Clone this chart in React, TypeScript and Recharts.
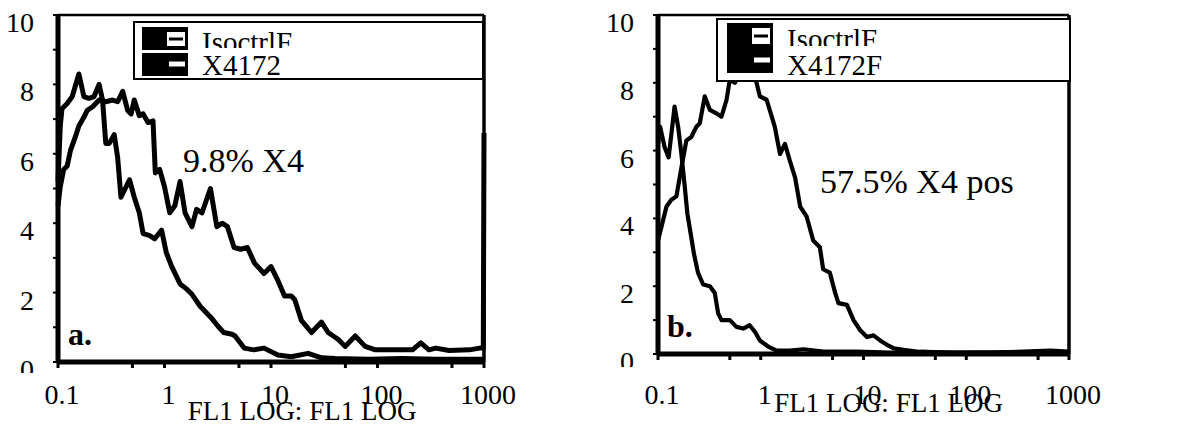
import { LineChart, Line, XAxis, YAxis, ReferenceLine, Legend, Customized } from 'recharts';

const FONT = '"Liberation Serif", "Times New Roman", serif';

// FL1 LOG tick values
const xTicks = [0.1, 0.5, 1, 5, 10, 50, 100, 500, 1000];
const xLabelled = [0.1, 1, 10, 100, 1000];
const yTicks = [0, 1, 2, 3, 4, 5, 6, 7, 8, 9, 10];

// panel a: isotype control
const aIsoFl1 = [0.1, 0.105, 0.109, 0.122, 0.136, 0.157, 0.175, 0.195, 0.218, 0.243, 0.262, 0.281, 0.303, 0.337, 0.363, 0.39, 0.42, 0.47, 0.52, 0.58, 0.63, 0.72, 0.81, 0.94, 1.04, 1.17, 1.4, 1.62, 1.81, 2.17, 2.7, 3.24, 3.6, 4.3, 4.6, 5.6, 6.9, 8.6, 11.6, 15.5, 22.3, 29.8, 40, 83, 170, 355, 1000];
const aIsoCount = [5.2, 6.8, 7.3, 7.45, 7.65, 8.3, 7.65, 7.6, 7.65, 8.0, 7.55, 6.3, 6.3, 6.55, 5.9, 4.75, 4.95, 5.25, 4.75, 4.3, 3.7, 3.65, 3.55, 3.8, 3.15, 2.75, 2.25, 2.1, 1.95, 1.6, 1.3, 1.0, 0.85, 0.8, 0.75, 0.4, 0.35, 0.4, 0.2, 0.15, 0.25, 0.12, 0.1, 0.08, 0.1, 0.08, 0.08];

// panel a: X4172 stain
const aPosFl1 = [0.1, 0.105, 0.113, 0.122, 0.131, 0.146, 0.157, 0.175, 0.188, 0.21, 0.243, 0.281, 0.325, 0.363, 0.405, 0.451, 0.486, 0.52, 0.58, 0.63, 0.7, 0.78, 0.82, 0.9, 1.0, 1.12, 1.25, 1.4, 1.56, 1.81, 2.0, 2.25, 2.7, 3.1, 3.5, 3.9, 4.5, 5.2, 6.0, 7.0, 8.6, 10, 11.6, 13.4, 15.5, 16.7, 19.3, 24, 29.8, 34.4, 42.9, 49.6, 61.8, 76.6, 95.6, 127, 213, 255, 304, 352, 470, 730, 912, 985, 1000];
const aPosCount = [4.5, 5.05, 5.55, 5.65, 6.1, 6.5, 6.8, 7.05, 7.25, 7.35, 7.55, 7.5, 7.55, 7.5, 7.8, 7.25, 7.15, 7.55, 7.1, 7.15, 6.9, 6.95, 5.45, 5.55, 5.05, 4.3, 4.5, 5.2, 4.3, 3.9, 4.4, 4.3, 5.0, 3.9, 4.0, 3.9, 3.3, 3.25, 3.3, 2.85, 2.55, 2.75, 2.35, 1.9, 1.9, 1.8, 1.2, 0.85, 1.15, 0.85, 0.65, 0.45, 0.75, 0.45, 0.35, 0.35, 0.35, 0.55, 0.35, 0.4, 0.33, 0.35, 0.4, 0.4, 6.6];

// panel b: isotype control
const bIsoFl1 = [0.1, 0.105, 0.116, 0.127, 0.145, 0.157, 0.169, 0.182, 0.193, 0.208, 0.224, 0.245, 0.275, 0.32, 0.357, 0.385, 0.415, 0.5, 0.58, 0.675, 0.78, 0.88, 0.98, 1.18, 1.43, 1.92, 2.6, 4.1, 8.6, 18, 38, 81, 170, 360, 660, 1000];
const bIsoCount = [6.2, 6.7, 6.1, 5.8, 7.3, 6.7, 5.9, 4.95, 4.15, 3.55, 2.95, 2.4, 2.05, 2.0, 1.8, 1.2, 1.0, 1.0, 0.8, 0.75, 0.85, 0.65, 0.4, 0.22, 0.1, 0.1, 0.14, 0.07, 0.07, 0.04, 0.06, 0.04, 0.04, 0.07, 0.1, 0.07];

// panel b: X4172F stain
const bPosFl1 = [0.1, 0.108, 0.121, 0.135, 0.151, 0.169, 0.189, 0.211, 0.236, 0.255, 0.285, 0.32, 0.37, 0.415, 0.465, 0.5, 0.56, 0.63, 0.73, 0.84, 0.91, 0.98, 1.14, 1.28, 1.37, 1.54, 1.72, 1.92, 2.16, 2.42, 2.8, 3.24, 3.76, 4.05, 4.7, 5.3, 5.7, 6.9, 8.0, 9.3, 10.8, 12.5, 14.5, 16.9, 19.6, 24.6, 33, 60, 200, 1000];
const bPosCount = [3.35, 3.75, 4.35, 4.55, 4.65, 5.5, 6.3, 6.4, 6.7, 6.8, 7.6, 7.2, 7.1, 7.0, 7.5, 8.1, 8.0, 8.3, 8.5, 8.4, 8.0, 7.6, 7.5, 7.0, 6.7, 5.9, 6.2, 5.7, 5.2, 4.35, 4.05, 3.35, 3.15, 2.5, 2.4, 1.8, 1.5, 1.45, 1.0, 0.7, 0.5, 0.55, 0.4, 0.27, 0.17, 0.12, 0.07, 0.04, 0.05, 0.04];

type Pt = { fl1: number; count: number };
const zip = (xs: number[], ys: number[]): Pt[] => xs.map((x, i) => ({ fl1: x, count: ys[i] }));

interface PanelCfg {
  id: string;
  left: number;
  width: number;
  rightMargin: number;
  xAxisHeight: number;
  strokeWidth: number;
  xLabelDy: number;
  zeroClip: number;
  titleDx: number;
  iso: Pt[];
  pos: Pt[];
  isoName: string;
  posName: string;
  letter: { text: string; x: number; y: number };
  note: { text: string; x: number; y: number };
  legend: {
    left: number; top: number; width: number; height: number;
    sw: number; swW: number; row1: number; row2: number; rowH: number;
    textX: number; base1: number; clip1: number; base2: number;
  };
}

const panels: PanelCfg[] = [
  {
    id: 'a', left: 0, width: 560, rightMargin: 76, xAxisHeight: 62, strokeWidth: 5,
    xLabelDy: 34, zeroClip: 11, titleDx: 31,
    iso: zip(aIsoFl1, aIsoCount), pos: zip(aPosFl1, aPosCount),
    isoName: 'IsoctrlF', posName: 'X4172',
    letter: { text: 'a.', x: 68, y: 345 },
    note: { text: '9.8% X4', x: 183, y: 172 },
    legend: { left: 133, top: 21, width: 351, height: 59, sw: 9, swW: 46, row1: 6, row2: 32, rowH: 23,
      textX: 69, base1: 31, clip1: 27, base2: 54 },
  },
  {
    id: 'b', left: 600, width: 584, rightMargin: 115, xAxisHeight: 70, strokeWidth: 4.2,
    xLabelDy: 42, zeroClip: 13, titleDx: 25,
    iso: zip(bIsoFl1, bIsoCount), pos: zip(bPosFl1, bPosCount),
    isoName: 'IsoctrlF', posName: 'X4172F',
    letter: { text: 'b.', x: 67, y: 337 },
    note: { text: '57.5% X4 pos', x: 220, y: 193 },
    legend: { left: 116, top: 18, width: 355, height: 64, sw: 11, swW: 46, row1: 5, row2: 30, rowH: 25,
      textX: 71, base1: 31, clip1: 28, base2: 57 },
  },
];

function XTick({ x, y, payload, dy }: any) {
  if (!xLabelled.includes(payload.value)) return null;
  return (
    <text x={x + 4} y={y + dy} textAnchor="middle" fontFamily={FONT} fontSize={28} fill="#000">
      {payload.value}
    </text>
  );
}

function YTick({ x, y, payload, id, clipDy }: any) {
  const v = payload.value;
  if (v % 2 !== 0) return null;
  if (v === 0) {
    return (
      <g>
        <defs>
          <clipPath id={`zero-${id}`}>
            <rect x={x - 60} y={y - 20} width={60} height={20 + clipDy} />
          </clipPath>
        </defs>
        <text x={x - 17} y={y + 17} textAnchor="end" fontFamily={FONT} fontSize={28} fill="#000" clipPath={`url(#zero-${id})`}>
          {v}
        </text>
      </g>
    );
  }
  return (
    <text x={x - 17} y={y + 17} textAnchor="end" fontFamily={FONT} fontSize={28} fill="#000">
      {v}
    </text>
  );
}

function Swatch({ x, y, w, h, open }: { x: number; y: number; w: number; h: number; open: boolean }) {
  return (
    <g>
      <rect x={x} y={y} width={w} height={h} fill="#000" />
      {open ? (
        <g>
          <rect x={x + w - 21} y={y + 5} width={18} height={h - 9} fill="#fff" />
          <rect x={x + w - 19} y={y + h / 2 - 1} width={14} height={3} fill="#000" />
        </g>
      ) : (
        <rect x={x + w - 19} y={y + h / 2 - 3} width={16} height={5} fill="#fff" />
      )}
    </g>
  );
}

function PanelLegend({ payload, cfg }: any) {
  const L = cfg.legend;
  const names = (payload || []).map((p: any) => p.value);
  return (
    <svg width={L.width} height={L.height} style={{ display: 'block' }}>
      <defs>
        <clipPath id={`leg-${cfg.id}`}>
          <rect x={0} y={0} width={L.width} height={L.clip1} />
        </clipPath>
      </defs>
      <rect x={1} y={1} width={L.width - 2} height={L.height - 2} fill="#fff" stroke="#000" strokeWidth={2} />
      <Swatch x={L.sw} y={L.row1} w={L.swW} h={L.rowH} open />
      <Swatch x={L.sw} y={L.row2} w={L.swW} h={L.rowH} open={false} />
      <text x={L.textX} y={L.base1} fontFamily={FONT} fontSize={29} fill="#000" clipPath={`url(#leg-${cfg.id})`}>
        {names[0]}
      </text>
      <text x={L.textX} y={L.base2} fontFamily={FONT} fontSize={29} fill="#000">
        {names[1]}
      </text>
    </svg>
  );
}

function Panel({ cfg }: { cfg: PanelCfg }) {
  return (
    <div style={{ position: 'absolute', left: cfg.left, top: 0 }}>
      <LineChart width={cfg.width} height={424} margin={{ top: 15, right: cfg.rightMargin, left: 0, bottom: 0 }}>
        <XAxis
          dataKey="fl1"
          type="number"
          scale="log"
          domain={[0.1, 1000]}
          ticks={xTicks}
          interval={0}
          height={cfg.xAxisHeight}
          tickSize={6}
          axisLine={{ stroke: '#000', strokeWidth: 5 }}
          tickLine={{ stroke: '#000', strokeWidth: 3 }}
          tick={<XTick dy={cfg.xLabelDy} />}
          label={({ viewBox }: any) => (
            <text
              x={viewBox.x + viewBox.width / 2 + cfg.titleDx}
              y={viewBox.y + 58}
              textAnchor="middle"
              fontFamily={FONT}
              fontSize={27}
              fill="#000"
            >
              FL1 LOG: FL1 LOG
            </text>
          )}
        />
        <YAxis
          type="number"
          domain={[0, 10]}
          ticks={yTicks}
          interval={0}
          width={58}
          tickSize={5}
          axisLine={{ stroke: '#000', strokeWidth: 5 }}
          tickLine={{ stroke: '#000', strokeWidth: 2 }}
          tick={<YTick id={cfg.id} clipDy={cfg.zeroClip} />}
        />
        <ReferenceLine y={10} stroke="#000" strokeWidth={2.5} />
        <ReferenceLine x={1000} stroke="#000" strokeWidth={3.5} />
        <Line
          data={cfg.iso}
          dataKey="count"
          name={cfg.isoName}
          type="linear"
          stroke="#000"
          strokeWidth={cfg.strokeWidth}
          strokeLinejoin="round"
          dot={false}
          isAnimationActive={false}
        />
        <Line
          data={cfg.pos}
          dataKey="count"
          name={cfg.posName}
          type="linear"
          stroke="#000"
          strokeWidth={cfg.strokeWidth}
          strokeLinejoin="round"
          dot={false}
          isAnimationActive={false}
        />
        <Customized
          component={() => (
            <g fontFamily={FONT} fill="#000">
              <text x={cfg.note.x} y={cfg.note.y} fontSize={34}>{cfg.note.text}</text>
              <text x={cfg.letter.x} y={cfg.letter.y} fontSize={32} fontWeight="bold">{cfg.letter.text}</text>
            </g>
          )}
        />
        <Legend
          layout="horizontal"
          verticalAlign="middle"
          align="center"
          content={(props: any) => <PanelLegend {...props} cfg={cfg} />}
          wrapperStyle={{
            position: 'absolute',
            left: cfg.legend.left,
            top: cfg.legend.top,
            width: cfg.legend.width,
            height: cfg.legend.height,
            margin: 0,
          }}
        />
      </LineChart>
    </div>
  );
}

export default function App() {
  return (
    <div style={{ position: 'absolute', left: 0, top: 0, width: 1184, height: 424, background: '#fff', overflow: 'hidden' }}>
      {panels.map((p) => (
        <Panel key={p.id} cfg={p} />
      ))}
    </div>
  );
}
